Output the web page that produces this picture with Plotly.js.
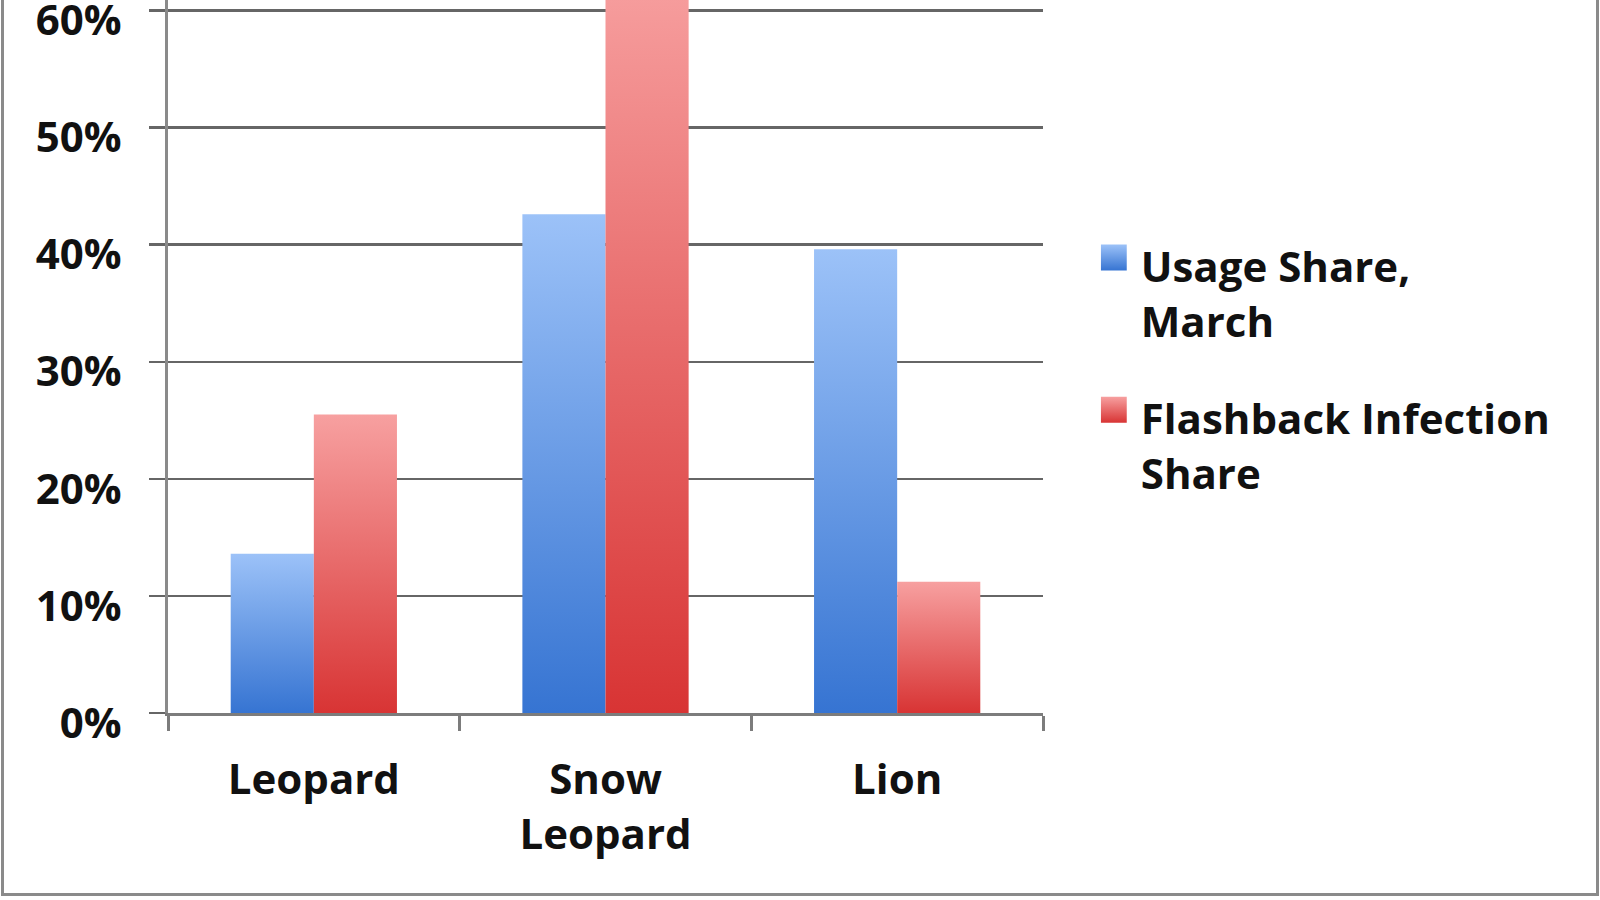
<!DOCTYPE html>
<html>
<head>
<meta charset="utf-8">
<script src="https://cdn.plot.ly/plotly-3.0.1.min.js"></script>
<style>
  html, body { margin: 0; padding: 0; background: #fff; }
  #wrap { position: relative; width: 1600px; height: 900px; overflow: hidden; }
  #frame {
    position: absolute; left: 1px; top: -6px; width: 1592px; height: 896px;
    border: 3px solid #8a8a8a; pointer-events: none;
  }
</style>
</head>
<body>
<div id="wrap">
  <div id="plotDiv"></div>
  <div id="frame"></div>
</div>
<script>
'use strict';

// categories on the x axis
const osNames = ['Leopard', 'Snow<br>Leopard', 'Lion'];

// share values
const usageShare = [0.136, 0.426, 0.396];
const infectionShare = [0.255, 0.634, 0.112];

const seriesNames = ['Usage Share,<br>March', 'Flashback Infection<br>Share'];

const tickVals = [0, 0.1, 0.2, 0.3, 0.4, 0.5, 0.6];

const labelFont = { family: '"Open Sans", Lato, sans-serif', size: 42, color: '#111', weight: 'bold' };

var data = [
    {
        type: 'bar',
        x: osNames,
        y: usageShare,
        name: seriesNames[0],
        legendgroup: 'usage',
        marker: { color: '#5b93e0', line: { width: 0 } }
    },
    {
        type: 'bar',
        x: osNames,
        y: infectionShare,
        name: seriesNames[1],
        legendgroup: 'infection',
        marker: { color: '#e86a6a', line: { width: 0 } }
    }
];

var layout = {
    width: 1600,
    height: 900,
    margin: { l: 168, r: 557, t: 0, b: 187, pad: 0 },
    paper_bgcolor: '#ffffff',
    plot_bgcolor: '#ffffff',
    barmode: 'group',
    bargap: 0.43,
    bargroupgap: 0,
    font: labelFont,
    showlegend: true,
    legend: {
        x: 1.066,
        xanchor: 'left',
        y: 0.675,
        yanchor: 'top',
        valign: 'top',
        traceorder: 'grouped',
        tracegroupgap: 40,
        font: labelFont,
        bgcolor: 'rgba(0,0,0,0)'
    },
    xaxis: {
        showgrid: false,
        showline: true,
        linecolor: '#7c7c7c',
        linewidth: 3,
        ticks: 'outside',
        tickson: 'boundaries',
        ticklen: 15,
        tickwidth: 3,
        tickcolor: '#7c7c7c',
        tickfont: labelFont,
        ticklabelstandoff: 28,
        fixedrange: true
    },
    yaxis: {
        range: [0, 0.609],
        tickvals: tickVals,
        tickformat: '.0%',
        ticklabeloverflow: 'allow',
        ticklabelshift: 10,
        showgrid: true,
        gridcolor: '#666666',
        gridwidth: 2.5,
        zeroline: false,
        showline: true,
        linecolor: '#8a8a8a',
        linewidth: 3,
        ticks: 'outside',
        ticklen: 16,
        tickwidth: 2.5,
        tickcolor: '#666666',
        tickfont: labelFont,
        ticklabelstandoff: 19,
        fixedrange: true
    }
};

function addGradients(gd) {
    // excel style shading: light on top, darker at the base
    const svg = gd.querySelector('svg.main-svg');
    const ns = 'http://www.w3.org/2000/svg';
    let defs = svg.querySelector('defs');
    const grads = [
        ['gradUsage', '#9cc2f8', '#3674d2'],
        ['gradInfection', '#f7a0a0', '#d83434']
    ];
    grads.forEach(function (g) {
        const lg = document.createElementNS(ns, 'linearGradient');
        lg.setAttribute('id', g[0]);
        lg.setAttribute('x1', '0'); lg.setAttribute('y1', '0');
        lg.setAttribute('x2', '0'); lg.setAttribute('y2', '1');
        const s1 = document.createElementNS(ns, 'stop');
        s1.setAttribute('offset', '0'); s1.setAttribute('stop-color', g[1]);
        const s2 = document.createElementNS(ns, 'stop');
        s2.setAttribute('offset', '1'); s2.setAttribute('stop-color', g[2]);
        lg.appendChild(s1); lg.appendChild(s2);
        defs.appendChild(lg);
    });

    const traces = gd.querySelectorAll('.barlayer .trace.bars');
    traces.forEach(function (tr, i) {
        tr.querySelectorAll('.point path').forEach(function (p) {
            p.style.fill = 'url(#' + grads[i][0] + ')';
        });
    });

    // legend swatches: bigger squares, like the excel legend
    const legendItems = gd.querySelectorAll('.legend .traces');
    legendItems.forEach(function (tr, i) {
        tr.querySelectorAll('.legendpoints path').forEach(function (p) {
            p.setAttribute('d', 'M-20,5H6V-21H-20Z');
            p.style.fill = 'url(#' + grads[i][0] + ')';
            p.style.stroke = 'none';
        });
    });
}

Plotly.newPlot('plotDiv', data, layout, { staticPlot: true }).then(addGradients);
</script>
</body>
</html>
